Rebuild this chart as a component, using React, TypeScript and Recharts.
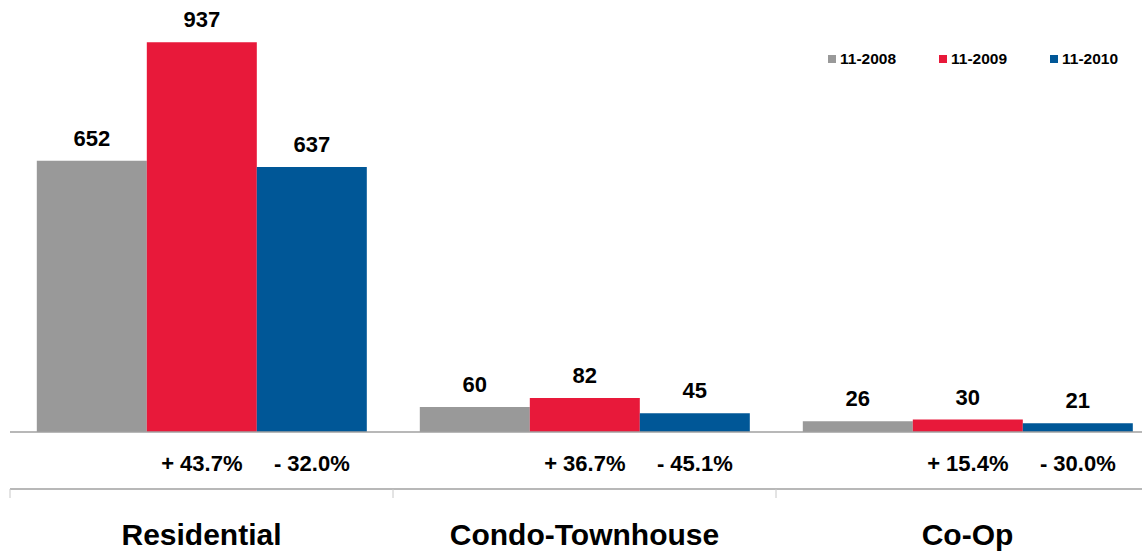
import React from "react";
import { BarChart, Bar, XAxis, YAxis, Legend, LabelList } from "recharts";

const categories = ["Residential", "Condo-Townhouse", "Co-Op"];
const series2008 = [652, 60, 26];
const series2009 = [937, 82, 30];
const series2010 = [637, 45, 21];
const change2009 = ["+ 43.7%", "+ 36.7%", "+ 15.4%"];
const change2010 = ["- 32.0%", "- 45.1%", "- 30.0%"];
const seriesNames = ["11-2008", "11-2009", "11-2010"];
const colors = ["#999999", "#E8193A", "#005797"];
const separatorTicks = [0, 1, 2, 3];

const data = categories.map((name, i) => ({
  name,
  idx: i + 0.5,
  s2008: series2008[i],
  s2009: series2009[i],
  s2010: series2010[i],
  c2009: change2009[i],
  c2010: change2010[i],
}));

const FONT = "'Liberation Sans', Arial, sans-serif";

const CategoryTick = (props: any) => {
  const { x, y, payload } = props;
  return (
    <text x={x} y={y + 113} textAnchor="middle" fontFamily={FONT} fontWeight="bold" fontSize={30} fill="#000">
      {payload.value}
    </text>
  );
};

const EmptyTick = () => <g />;

const ChangeLabel = (props: any) => {
  const { x, y, width, height, value } = props;
  return (
    <text x={x + width / 2} y={y + height + 39} textAnchor="middle" fontFamily={FONT} fontWeight="bold" fontSize={22} fill="#000">
      {value}
    </text>
  );
};

const LegendContent = (props: any) => {
  const payload = props.payload || [];
  return (
    <div style={{ display: "flex", fontFamily: FONT }}>
      {payload.map((p: any, i: number) => (
        <div key={i} style={{ width: 111, display: "flex", alignItems: "center" }}>
          <span style={{ width: 8, height: 8, background: p.color, display: "inline-block", marginRight: 4 }} />
          <span style={{ fontSize: 15.5, fontWeight: "bold", color: "#000", lineHeight: "18px" }}>{p.value}</span>
        </div>
      ))}
    </div>
  );
};

export default function App() {
  return (
    <div style={{ position: "fixed", left: 0, top: 0, width: 1142, height: 553, overflow: "hidden", background: "#fff" }}>
      <BarChart
        width={1160}
        height={553}
        data={data}
        margin={{ top: 16, right: 1, bottom: 0, left: 10 }}
        barCategoryGap="7%"
        barGap={0}
      >
        <XAxis
          xAxisId="cat"
          dataKey="name"
          height={57}
          axisLine={{ stroke: "#A0A0A0", strokeWidth: 1.5 }}
          tickLine={false}
          tickSize={0}
          tickMargin={0}
          interval={0}
          tick={<CategoryTick />}
        />
        <XAxis
          xAxisId="sep"
          dataKey="idx"
          type="number"
          domain={[0, 3]}
          ticks={separatorTicks}
          allowDataOverflow
          height={64}
          axisLine={{ stroke: "#A0A0A0", strokeWidth: 1.5 }}
          tickLine={{ stroke: "#C8C8C8" }}
          tickSize={9}
          interval={0}
          tick={<EmptyTick />}
        />
        <YAxis hide domain={[0, 1000]} />
        <Legend
          layout="horizontal"
          verticalAlign="middle"
          align="center"
          content={<LegendContent />}
          wrapperStyle={{ top: 50, left: 828, width: 340, height: 18 }}
        />
        <Bar xAxisId="cat" dataKey="s2008" name={seriesNames[0]} fill={colors[0]} isAnimationActive={false}>
          <LabelList dataKey="s2008" position="top" offset={15} fontFamily={FONT} fontWeight="bold" fontSize={22} fill="#000" />
        </Bar>
        <Bar xAxisId="cat" dataKey="s2009" name={seriesNames[1]} fill={colors[1]} isAnimationActive={false}>
          <LabelList dataKey="s2009" position="top" offset={15} fontFamily={FONT} fontWeight="bold" fontSize={22} fill="#000" />
          <LabelList dataKey="c2009" content={<ChangeLabel />} />
        </Bar>
        <Bar xAxisId="cat" dataKey="s2010" name={seriesNames[2]} fill={colors[2]} isAnimationActive={false}>
          <LabelList dataKey="s2010" position="top" offset={15} fontFamily={FONT} fontWeight="bold" fontSize={22} fill="#000" />
          <LabelList dataKey="c2010" content={<ChangeLabel />} />
        </Bar>
      </BarChart>
    </div>
  );
}
